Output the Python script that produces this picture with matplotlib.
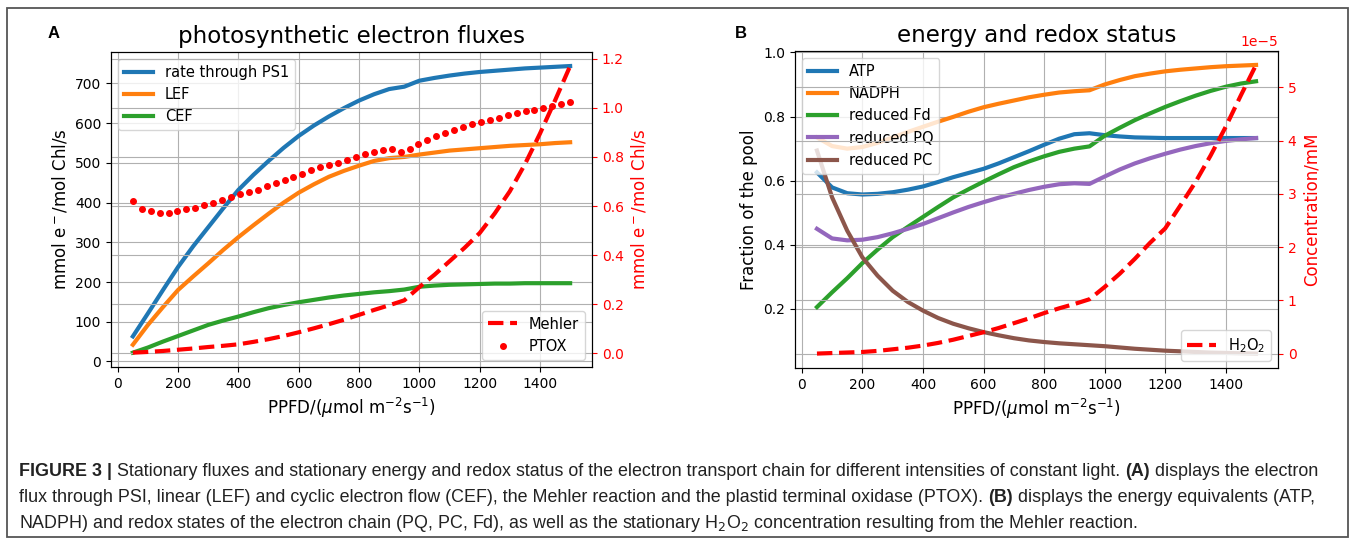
import numpy as np
import matplotlib
matplotlib.use('Agg')
import matplotlib.pyplot as plt
from matplotlib.patches import Rectangle
from matplotlib.ticker import ScalarFormatter

# light intensity grid (PPFD)
ppfd = np.arange(50, 1501, 50)
ptox_ppfd = np.linspace(50, 1500, 50)

# panel A: fluxes (left axis)
ps1 = [63, 121, 180, 238, 290, 338, 386, 432, 470, 505, 538, 568, 594, 617, 638,
       657, 673, 686, 692, 707, 714, 720, 725, 729, 732, 735, 738, 740, 742, 744]
lef = [42, 92, 137, 180, 214, 247, 281, 313, 343, 372, 400, 425, 446, 465, 480,
       493, 505, 512, 515, 521, 526, 531, 534, 537, 540, 543, 545, 547, 550, 552]
cef = [22, 35, 50, 64, 78, 92, 103, 113, 124, 134, 142, 149, 155, 161, 166,
       170, 174, 177, 181, 188, 191, 193, 194, 195, 196, 196, 197, 197, 197, 197]
# panel A: right axis
mehler = [0.003, 0.006, 0.010, 0.015, 0.020, 0.026, 0.031, 0.037, 0.047, 0.058,
          0.071, 0.086, 0.102, 0.119, 0.137, 0.157, 0.177, 0.196, 0.216, 0.27,
          0.32, 0.375, 0.43, 0.49, 0.57, 0.66, 0.77, 0.895, 1.03, 1.17]
ptox = [0.621, 0.586, 0.580, 0.573, 0.573, 0.581, 0.586, 0.593, 0.604, 0.613,
        0.624, 0.638, 0.647, 0.658, 0.667, 0.681, 0.692, 0.705, 0.719, 0.732,
        0.746, 0.757, 0.766, 0.775, 0.787, 0.799, 0.811, 0.820, 0.827, 0.831,
        0.820, 0.834, 0.851, 0.868, 0.884, 0.897, 0.908, 0.921, 0.935, 0.942,
        0.951, 0.959, 0.969, 0.978, 0.986, 0.992, 1.000, 1.009, 1.016, 1.023]

# panel B: pool fractions (left axis)
atp = [0.626, 0.579, 0.561, 0.557, 0.559, 0.564, 0.572, 0.582, 0.596, 0.611,
       0.624, 0.637, 0.654, 0.673, 0.692, 0.712, 0.731, 0.745, 0.748, 0.742,
       0.738, 0.735, 0.734, 0.733, 0.733, 0.733, 0.733, 0.733, 0.733, 0.733]
nadph = [0.735, 0.708, 0.700, 0.705, 0.718, 0.735, 0.752, 0.768, 0.784, 0.799,
         0.815, 0.829, 0.840, 0.850, 0.860, 0.868, 0.875, 0.879, 0.882, 0.900,
         0.914, 0.926, 0.934, 0.941, 0.946, 0.950, 0.954, 0.957, 0.959, 0.961]
red_fd = [0.206, 0.252, 0.296, 0.343, 0.385, 0.424, 0.456, 0.487, 0.518, 0.548,
          0.573, 0.597, 0.620, 0.642, 0.660, 0.676, 0.690, 0.700, 0.707, 0.740,
          0.765, 0.789, 0.810, 0.830, 0.848, 0.865, 0.880, 0.893, 0.903, 0.910]
red_pq = [0.450, 0.420, 0.414, 0.416, 0.424, 0.436, 0.450, 0.465, 0.483, 0.501,
          0.518, 0.533, 0.547, 0.559, 0.571, 0.581, 0.589, 0.592, 0.590, 0.613,
          0.635, 0.654, 0.670, 0.684, 0.697, 0.708, 0.717, 0.724, 0.729, 0.733]
red_pc = [0.694, 0.548, 0.444, 0.361, 0.304, 0.257, 0.222, 0.195, 0.172, 0.154,
          0.140, 0.128, 0.118, 0.109, 0.102, 0.097, 0.093, 0.090, 0.087, 0.084,
          0.080, 0.076, 0.073, 0.070, 0.068, 0.066, 0.064, 0.063, 0.062, 0.061]
# panel B: H2O2 concentration in units of 1e-5 mM
h2o2 = [0.0, 0.01, 0.02, 0.03, 0.05, 0.08, 0.11, 0.15, 0.20, 0.26,
        0.33, 0.40, 0.48, 0.57, 0.66, 0.76, 0.85, 0.93, 1.02, 1.25,
        1.50, 1.78, 2.08, 2.35, 2.78, 3.22, 3.72, 4.26, 4.85, 5.42]

plt.rcParams['xtick.labelsize'] = 10
plt.rcParams['ytick.labelsize'] = 10
plt.rcParams['legend.fontsize'] = 10.5

W, H = 1355, 544
fig = plt.figure(figsize=(W / 100, H / 100), dpi=100)

xlabel = r'PPFD/($\mu$mol m$^{-2}$s$^{-1}$)'

# ---- panel A ----
axA = fig.add_axes([111 / W, 1 - 367 / H, 481 / W, 315.3 / H])
axA.plot(ppfd, ps1, color='tab:blue', lw=3, label='rate through PS1')
axA.plot(ppfd, lef, color='tab:orange', lw=3, label='LEF')
axA.plot(ppfd, cef, color='tab:green', lw=3, label='CEF')
axA.grid(True)
axA.set_xlabel(xlabel, fontsize=12)
axA.set_ylabel(r'mmol e$^-$/mol Chl/s', fontsize=12)
axA.set_title('photosynthetic electron fluxes', fontsize=16.5)
axA.legend(loc='upper left')

axA2 = axA.twinx()
axA2.plot(ppfd, mehler, color='red', ls='--', lw=3, label='Mehler')
axA2.plot(ptox_ppfd, ptox, color='red', ls='none', marker='o', ms=4, label='PTOX')
axA2.grid(True)
axA2.set_ylabel(r'mmol e$^-$/mol Chl/s', fontsize=12, color='red')
axA2.tick_params(axis='y', colors='red')
axA2.legend(loc='lower right')

# ---- panel B ----
axB = fig.add_axes([795 / W, 1 - 368 / H, 483 / W, 317.5 / H])
axB.plot(ppfd, atp, color='tab:blue', lw=3, label='ATP')
axB.plot(ppfd, nadph, color='tab:orange', lw=3, label='NADPH')
axB.plot(ppfd, red_fd, color='tab:green', lw=3, label='reduced Fd')
axB.plot(ppfd, red_pq, color='tab:purple', lw=3, label='reduced PQ')
axB.plot(ppfd, red_pc, color='tab:brown', lw=3, label='reduced PC')
axB.grid(True)
axB.set_xlabel(xlabel, fontsize=12)
axB.set_ylabel('Fraction of the pool', fontsize=12)
axB.set_title('energy and redox status', fontsize=16.5)
axB.legend(loc='upper left')

axB2 = axB.twinx()
axB2.plot(ppfd, np.array(h2o2) * 1e-5, color='red', ls='--', lw=3, label=r'H$_2$O$_2$')
axB2.grid(True)
fmt = ScalarFormatter()
fmt.set_powerlimits((-3, 3))
axB2.yaxis.set_major_formatter(fmt)
axB2.set_ylabel('Concentration/mM', fontsize=12, color='red')
axB2.tick_params(axis='y', colors='red')
axB2.yaxis.get_offset_text().set_color('red')
axB2.yaxis.get_offset_text().set_fontsize(10)
axB2.legend(loc='lower right')

# panel letters
fig.text(48 / W, 1 - 33 / H, 'A', fontsize=12, fontweight='bold',
         family='Liberation Sans', va='center')
fig.text(735 / W, 1 - 33 / H, 'B', fontsize=12, fontweight='bold',
         family='Liberation Sans', va='center')

# frame around the figure
fig.patches.append(Rectangle((7 / W, 1 - 537 / H), 1341 / W, 529 / H,
                             transform=fig.transFigure, fill=False,
                             edgecolor='#555555', lw=1.3))

# caption, written run by run so that parts can be bold
caption = [
    [('FIGURE 3 |', 'bold'),
     (' Stationary fluxes and stationary energy and redox status of the electron '
      'transport chain for different intensities of constant light. ', 'normal'),
     ('(A)', 'bold'), (' displays the electron', 'normal')],
    [('flux through PSI, linear (LEF) and cyclic electron flow (CEF), the Mehler '
      'reaction and the plastid terminal oxidase (PTOX). ', 'normal'),
     ('(B)', 'bold'), (' displays the energy equivalents (ATP,', 'normal')],
    [('NADPH) and redox states of the electron chain (PQ, PC, Fd), as well as the '
      r'stationary H$_2$O$_2$ concentration resulting from the Mehler reaction.', 'normal')],
]
renderer = fig.canvas.get_renderer()
for i, line in enumerate(caption):
    x = 19
    y = 1 - (476 + 26 * i) / H
    for txt, weight in line:
        t = fig.text(x / W, y, txt, fontsize=12.9, fontweight=weight,
                     family='Liberation Sans', color='#222222', va='baseline')
        x = t.get_window_extent(renderer).x1

fig.savefig('out.png', dpi=100)
